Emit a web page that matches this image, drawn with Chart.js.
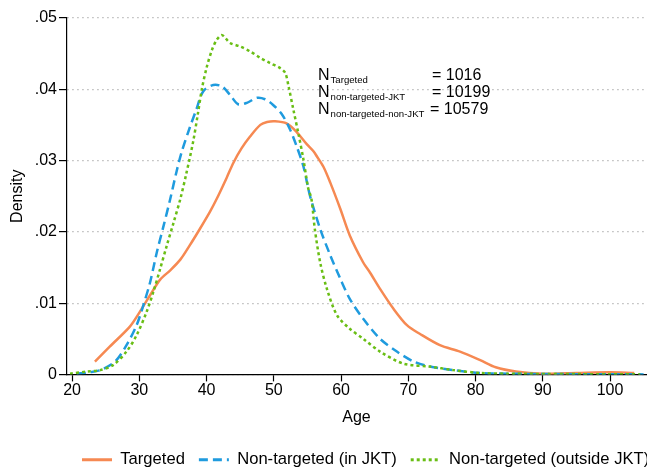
<!DOCTYPE html>
<html>
<head>
<meta charset="utf-8">
<script src="https://cdn.jsdelivr.net/npm/chart.js@4.4.1/dist/chart.umd.min.js"></script>
<style>
  html, body { margin: 0; padding: 0; background: #fff; overflow: hidden; }
  #wrap { position: relative; width: 647px; height: 468px; }
</style>
</head>
<body>
<div id="wrap"><canvas id="c"></canvas></div>
<script>
// Kernel density of age, three groups.
const FONT = "'Liberation Sans', Arial, Helvetica, sans-serif";

const SERIES_LABELS = ["Targeted", "Non-targeted (in JKT)", "Non-targeted (outside JKT)"];
const SERIES_COLORS = ["#f68952", "#1f9bde", "#69be14"];

const TARGETED_AGE = [23.4, 25.6, 28.6, 30.1, 31.6, 33.1, 34.6, 36.1, 37.5, 39.0, 40.5, 41.5, 43.0, 44.0,
  45.2, 46.5, 48.0, 49.0, 50.2, 51.9, 53.4, 54.9, 55.9, 56.4, 57.4, 58.4, 59.9, 61.3, 63.3, 64.3, 65.8,
  67.8, 69.8, 71.7, 74.7, 77.7, 80.7, 83.0, 86.0, 90.0, 95.0, 100.0, 103.6];
const TARGETED_DENS = [.0018, .0039, .0067, .0088, .0111, .0133, .0146, .0161, .0181, .0204, .0228, .0246,
  .0276, .0297, .0317, .0334, .0350, .0354, .0355, .0352, .0340, .0323, .0313, .0306, .0291, .0269, .0232,
  .0195, .0157, .0143, .0120, .0092, .0069, .0057, .0041, .0032, .0020, .0010, .0004, .0001, .0002, .0003, .0002];

const JKT_AGE = [20.7, 22.5, 24.2, 26.4, 28.1, 29.6, 30.6, 31.6, 32.6, 33.6, 34.6, 35.5, 36.3, 37.5, 38.5, 39.5,
  41.0, 42.3, 43.5, 44.7, 46.0, 47.5, 48.7, 49.9, 51.2, 52.4, 53.4, 54.4, 55.4, 56.9, 58.4, 59.9, 61.3,
  63.3, 65.8, 68.3, 70.8, 73.2, 76.7, 80.7, 85.0, 90.0, 100.0, 105.0];
const JKT_DENS = [.0001, .0003, .0006, .0018, .0041, .0069, .0097, .0129, .0171, .0208, .0246, .0283, .0312, .0346,
  .0372, .0397, .0406, .0404, .0392, .0379, .0381, .0388, .0386, .0378, .0365, .0344, .0320, .0292, .0250,
  .0204, .0167, .0134, .0106, .0078, .0050, .0032, .0018, .0011, .0006, .0002, .0001, .00005, .00003, 0];

const OUTSIDE_AGE = [19.7, 22.2, 24.2, 26.1, 28.1, 29.6, 31.1, 32.1, 33.1, 34.1, 35.1, 36.1, 37.0, 38.0,
  38.7, 39.3, 40.0, 40.8, 41.5, 42.3, 43.5, 45.0, 46.5, 48.0, 49.4, 50.9, 51.7, 52.2, 52.9, 53.7, 54.4,
  55.1, 55.6, 56.1, 56.9, 57.9, 59.4, 61.3, 63.3, 65.8, 69.3, 73.2, 76.7, 80.7, 85.0, 104.5];
const OUTSIDE_DENS = [.0001, .0004, .0006, .0013, .0032, .0055, .0088, .0116, .0148, .0181, .0213, .0246,
  .0282, .0326, .0365, .0400, .0430, .0455, .0469, .0476, .0465, .0460, .0453, .0444, .0437, .0430, .0423,
  .0404, .0372, .0336, .0302, .0262, .0246, .0204, .0157, .0120, .0083, .0064, .0050, .0032, .0015, .0011,
  .0006, .0002, .0001, 0];

const X_TICKS = [20, 30, 40, 50, 60, 70, 80, 90, 100];
const Y_TICKS = [0, .01, .02, .03, .04, .05];

const N_SUBS = ["Targeted", "non-targeted-JKT", "non-targeted-non-JKT"];
const N_VALUES = ["1016", "10199", "10579"];

const toPoints = (xs, ys) => xs.map((x, i) => ({ x, y: ys[i] }));

const DASHES = [[], [9, 5], [3, 3]];
const seriesData = [
  toPoints(TARGETED_AGE, TARGETED_DENS),
  toPoints(JKT_AGE, JKT_DENS),
  toPoints(OUTSIDE_AGE, OUTSIDE_DENS),
];

const datasets = seriesData.map((data, i) => ({
  label: SERIES_LABELS[i],
  data,
  borderColor: SERIES_COLORS[i],
  backgroundColor: SERIES_COLORS[i],
  borderWidth: 2.5,
  borderDash: DASHES[i],
  pointRadius: 0,
  tension: 0.3,
  fill: false,
  order: 3 - i, // later series drawn on top, like Stata
}));

// the N = ... block in the upper right of the plot
const nNote = {
  id: "nNote",
  afterDatasetsDraw(chart) {
    const ctx = chart.ctx;
    const eqX = [432, 432, 430];
    ctx.save();
    ctx.fillStyle = "#000";
    ctx.textBaseline = "alphabetic";
    ctx.textAlign = "left";
    N_SUBS.forEach((sub, i) => {
      const bx = 318, by = 80 + i * 17;
      ctx.font = "16px " + FONT;
      ctx.fillText("N", bx, by);
      const w = ctx.measureText("N").width;
      ctx.font = "9.6px " + FONT;
      ctx.fillText(sub, bx + w + 1, by + 3);
      ctx.font = "16px " + FONT;
      ctx.fillText("= " + N_VALUES[i], eqX[i], by);
    });
    ctx.restore();
  },
};

// Stata clips the legend at the right edge: pin it where it sits in the picture
const legendPin = {
  id: "legendPin",
  afterLayout(chart) {
    const lg = chart.legend;
    if (!lg) return;
    lg.left = 68;
    lg.right = 68 + 900;
    lg.top = 437.5;
    lg.bottom = lg.top + lg.height;
  },
};

new Chart(document.getElementById("c"), {
  type: "line",
  data: { datasets },
  plugins: [nNote, legendPin],
  options: {
    responsive: true,
    maintainAspectRatio: false,
    devicePixelRatio: 1,
    animation: false,
    layout: { padding: { left: 0, right: 1, top: 18, bottom: 0 } },
    plugins: {
      tooltip: { enabled: false },
      legend: {
        position: "bottom",
        align: "start",
        labels: {
          font: { family: FONT, size: 16.6 },
          color: "#000",
          padding: 14,
          usePointStyle: true,
          pointStyle: "line",
          pointStyleWidth: 30,
          generateLabels: (chart) =>
            chart.data.datasets.map((ds, i) => ({
              text: ds.label,
              fillStyle: ds.borderColor,
              strokeStyle: ds.borderColor,
              lineWidth: 3,
              lineDash: ds.borderDash,
              lineCap: "butt",
              pointStyle: "line",
              hidden: false,
              fontColor: "#000",
              datasetIndex: i,
            })),
        },
      },
    },
    scales: {
      x: {
        type: "linear",
        min: 19.25,
        max: 105.35,
        afterBuildTicks: (s) => { s.ticks = X_TICKS.map((v) => ({ value: v })); },
        afterFit: (s) => { s.height = 53; },
        grid: { drawOnChartArea: false, tickLength: 7, tickColor: "#000", tickWidth: 1.2 },
        border: { color: "#000", width: 1.2 },
        ticks: { color: "#000", font: { family: FONT, size: 16 }, padding: 0, maxRotation: 0, autoSkip: false },
        title: {
          display: true, text: "Age", color: "#000",
          font: { family: FONT, size: 16, lineHeight: 1.2 },
          padding: { top: 0, bottom: 0.5 },
        },
      },
      y: {
        min: 0,
        max: 0.05,
        afterBuildTicks: (s) => { s.ticks = Y_TICKS.map((v) => ({ value: v })); },
        afterFit: (s) => { s.width = 67; },
        grid: { color: "#b9b9b9", lineWidth: 1.2, tickLength: 8, tickColor: "#000", tickWidth: 1.2 },
        border: { color: "#000", width: 1.2, dash: [1.5, 3.5] },
        ticks: {
          color: "#000",
          font: { family: FONT, size: 16 },
          padding: 2,
          callback: (v) => (v === 0 ? "0" : v.toFixed(2).replace(/^0/, "")),
        },
        title: {
          display: true, text: "Density", color: "#000",
          font: { family: FONT, size: 16, lineHeight: 1.2 },
          padding: { top: 8.4, bottom: 0 },
        },
      },
    },
  },
});
</script>
</body>
</html>
